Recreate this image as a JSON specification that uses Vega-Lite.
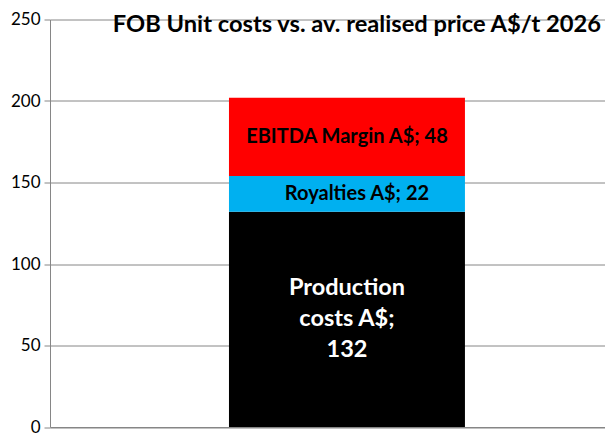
{
  "$schema": "https://vega.github.io/schema/vega-lite/v6.json",
  "autosize": "none",
  "width": 555,
  "height": 407.5,
  "padding": {"left": 50, "top": 19.5, "right": 0, "bottom": 8},
  "background": "white",
  "title": {
    "text": "FOB Unit costs vs. av. realised price A$/t 2026",
    "anchor": "end",
    "orient": "top",
    "offset": -10,
    "dy": 16,
    "dx": -4,
    "font": "Lato",
    "fontSize": 23.7,
    "fontWeight": "bold",
    "color": "black"
  },
  "data": {
    "values": [
      {"cat": "2026", "segment": "Production costs", "order": 1, "value": 132, "label": "Production\ncosts A$;\n132"},
      {"cat": "2026", "segment": "Royalties", "order": 2, "value": 22, "label": "Royalties A$; 22"},
      {"cat": "2026", "segment": "EBITDA Margin", "order": 3, "value": 48, "label": "EBITDA Margin A$; 48"}
    ]
  },
  "transform": [
    {"stack": "value", "groupby": ["cat"], "sort": [{"field": "order", "order": "ascending"}], "as": ["v0", "v1"]},
    {"calculate": "(datum.v0 + datum.v1) / 2", "as": "mid"}
  ],
  "encoding": {
    "x": {
      "field": "cat",
      "type": "nominal",
      "scale": {"paddingInner": 0, "paddingOuter": 0.676, "align": 0.561},
      "axis": {"labels": false, "ticks": false, "title": null, "domainColor": "#868686", "grid": false}
    }
  },
  "layer": [
    {
      "mark": {"type": "bar"},
      "encoding": {
        "y": {
          "field": "v0",
          "type": "quantitative",
          "scale": {"domain": [0, 250], "nice": false},
          "axis": {
            "values": [0, 50, 100, 150, 200, 250],
            "title": null,
            "grid": true,
            "gridColor": "#868686",
            "domainColor": "#868686",
            "tickColor": "#868686",
            "tickSize": 6,
            "labelFont": "Lato",
            "labelFontSize": 17,
            "labelColor": "black",
            "labelPadding": 4
          }
        },
        "y2": {"field": "v1"},
        "color": {
          "field": "segment",
          "type": "nominal",
          "scale": {
            "domain": ["Production costs", "Royalties", "EBITDA Margin"],
            "range": ["#000000", "#00B0F0", "#FF0000"]
          },
          "legend": null
        }
      }
    },
    {
      "transform": [{"filter": "datum.segment === 'EBITDA Margin'"}],
      "mark": {"type": "text", "font": "Lato", "fontWeight": "bold", "baseline": "middle", "fontSize": 20, "color": "black"},
      "encoding": {
        "y": {"field": "mid", "type": "quantitative"},
        "text": {"field": "label"}
      }
    },
    {
      "transform": [{"filter": "datum.segment === 'Royalties'"}],
      "mark": {"type": "text", "font": "Lato", "fontWeight": "bold", "baseline": "middle", "fontSize": 20, "color": "black", "dx": 10},
      "encoding": {
        "y": {"field": "mid", "type": "quantitative"},
        "text": {"field": "label"}
      }
    },
    {
      "transform": [{"filter": "datum.segment === 'Production costs'"}],
      "mark": {"type": "text", "font": "Lato", "fontWeight": "bold", "lineBreak": "\n", "baseline": "middle", "lineHeight": 31, "dy": -31, "fontSize": 23.5, "color": "white"},
      "encoding": {
        "y": {"field": "mid", "type": "quantitative"},
        "text": {"field": "label"}
      }
    }
  ],
  "config": {"view": {"stroke": null}}
}
